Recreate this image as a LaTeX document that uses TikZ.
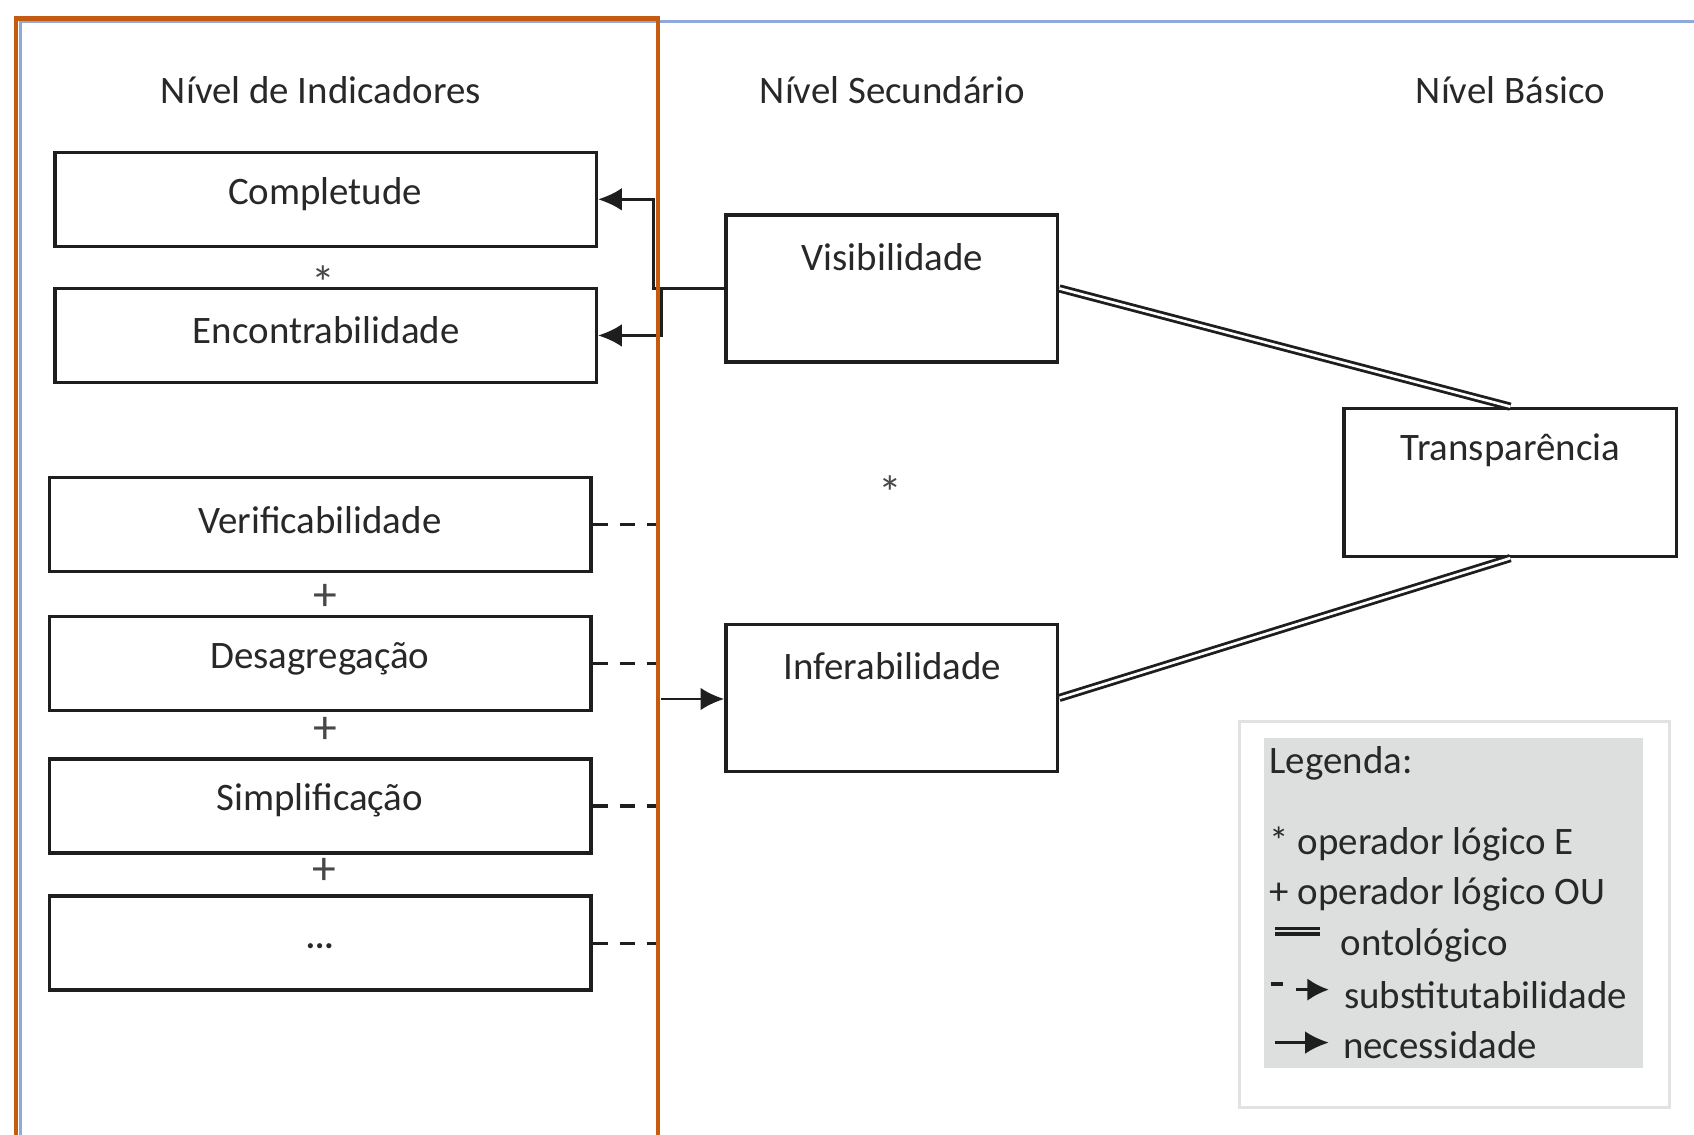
\documentclass[tikz,border=0pt]{standalone}
\usepackage{fontspec}
\setmainfont{Carlito}
\usetikzlibrary{arrows.meta}
\definecolor{frameorange}{RGB}{197,90,17}
\definecolor{frameblue}{RGB}{142,169,219}
\definecolor{txt}{RGB}{40,40,40}
\definecolor{boxline}{RGB}{30,30,30}
\definecolor{legfill}{RGB}{221,222,222}
\definecolor{legframe}{RGB}{226,226,226}
\tikzset{
  lbl/.style={font=\fontsize{36}{43}\selectfont, text=txt, inner sep=0pt},
  opmark/.style={font=\fontsize{44}{50}\selectfont, text=txt!85, inner sep=0pt},
  indbox/.style={draw=boxline, line width=3.2pt, minimum width=501pt, minimum height=87pt, inner sep=0pt},
  secbox/.style={draw=boxline, line width=3.2pt, minimum width=307pt, minimum height=136pt, inner sep=0pt},
  necline/.style={draw=boxline, line width=2.6pt, -{Latex[length=22pt,width=21pt]}},
  substline/.style={draw=boxline, line width=3pt, dash pattern=on 14pt off 11pt},
  ontoline/.style={draw=boxline, double=white, line width=2.6pt, double distance=2.4pt},
}
\begin{document}
\begin{tikzpicture}[x=1pt,y=-1pt]
\useasboundingbox (0,0) rectangle (1568,1050);
\fill[white] (0,0) rectangle (1568,1050);

% page frame
\draw[frameblue, line width=3pt] (19,1055) -- (19,20) -- (1572,20);

% titles
\node[lbl] (t1) at (297,83) {Nível de Indicadores};
\node[lbl] (t2) at (826,83) {Nível Secundário};
\node[lbl] (t3) at (1398,83) {Nível Básico};

% indicator boxes
\node[indbox] (comp) at (301.5,184.5) {};
\node[indbox] (enc) at (301.5,310.5) {};
\node[indbox] (verif) at (296.5,485.5) {};
\node[indbox] (desag) at (296.5,614) {};
\node[indbox] (simp) at (296.5,746) {};
\node[indbox] (more) at (296.5,873) {};

\node[lbl] (compT) at (301,180) {Completude};
\node[lbl] (encT) at (302,306) {Encontrabilidade};
\node[lbl] (verifT) at (296,481) {Verificabilidade};
\node[lbl] (desagT) at (296,610) {Desagregação};
\node[lbl] (simpT) at (296,741) {Simplificação};
\node[lbl, font=\fontsize{32}{36}\selectfont\bfseries] (moreT) at (296,876) {...};

\node[opmark] (and1) at (299,262) {*};
\node[opmark] (or1) at (301,553) {+};
\node[opmark] (or2) at (301,676) {+};
\node[opmark] (or3) at (300,807) {+};

% secondary boxes
\node[secbox] (vis) at (825.5,267) {};
\node[secbox] (inf) at (825.5,646) {};
\node[lbl] (visT) at (826,238) {Visibilidade};
\node[lbl] (infT) at (826,617) {Inferabilidade};
\node[opmark] (and2) at (824,456) {*};

% basic box
\node[draw=boxline, line width=3.2pt, minimum width=308pt, minimum height=137pt, inner sep=0pt] (transp) at (1398,446.5) {};
\node[lbl] (transpT) at (1398,417) {Transparência};

% connectors
\coordinate (jA) at (605,267);
\coordinate (jB) at (612,267);
\coordinate (oR) at (609,0);
\coordinate (nS) at (612,647);
\draw[necline] (vis.west) -- (jA) |- (comp.east);
\draw[necline] (jB) |- (enc.east);
\draw[substline] (verif.east) -- (verif.east -| oR);
\draw[substline] (desag.east) -- (desag.east -| oR);
\draw[substline] (simp.east) -- (simp.east -| oR);
\draw[substline] (more.east) -- (more.east -| oR);
\draw[necline] (nS) -- (inf.west |- nS);
\draw[ontoline] (vis.east) -- (transp.north);
\draw[ontoline] (inf.east) -- (transp.south);

% orange frame
\draw[frameorange, line width=4pt] (15,1055) -- (15,17) -- (609,17) -- (609,1055);

% legend
\node[draw=legframe, line width=3pt, minimum width=398pt, minimum height=357pt, inner sep=0pt] (legbox) at (1346,846.5) {};
\node[fill=legfill, minimum width=351pt, minimum height=306pt, inner sep=0pt] (legbg) at (1345.5,836) {};
\node[lbl, anchor=west] (legT) at (1175,707) {Legenda:};
\node[lbl, anchor=west] (leg1) at (1175,781) {* operador lógico E};
\node[lbl, anchor=west] (leg2) at (1175,828) {+ operador lógico OU};
\node[lbl, anchor=west] (leg3) at (1241,875) {ontológico};
\node[lbl, anchor=west] (leg4) at (1244,921) {substitutabilidade};
\node[lbl, anchor=west] (leg5) at (1243,967) {necessidade};
\draw[draw=boxline, double=legfill, line width=3.4pt, double distance=1.8pt] (1180,862) -- (1222,862);
\draw[draw=boxline, line width=3.2pt] (1176,911) -- (1188,911);
\draw[draw=boxline, line width=3pt, -{Latex[length=20pt,width=21pt]}] (1200,916) -- (1230,916);
\draw[necline] (1180,965) -- (1230,965);
\end{tikzpicture}
\end{document}
